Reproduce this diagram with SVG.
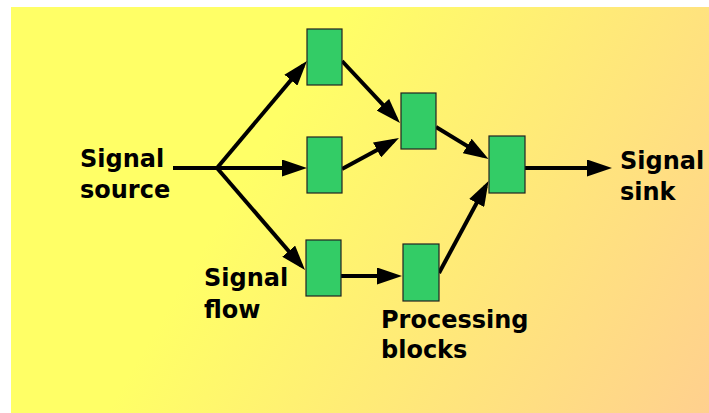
<svg xmlns="http://www.w3.org/2000/svg" width="709" height="413" viewBox="0 0 709 413">
  <defs>
    <linearGradient id="bg" gradientUnits="userSpaceOnUse" x1="260" y1="150" x2="709" y2="413">
      <stop offset="0" stop-color="#FFFF66"/>
      <stop offset="1" stop-color="#FFD08E"/>
    </linearGradient>
    <marker id="head" markerUnits="userSpaceOnUse" viewBox="0 0 25 17" markerWidth="25" markerHeight="17" refX="19" refY="8.5" orient="auto">
      <path d="M0,0 L25,8.5 L0,17 z" fill="#000"/>
    </marker>
    <style>
      .block { fill: #33CC66; stroke: #222; stroke-width: 1.2; }
      .flow { fill: none; stroke: #000; stroke-width: 4; stroke-linecap: butt; }
      .flow.arrow { marker-end: url(#head); }
      .label { font-family: "DejaVu Sans", sans-serif; font-weight: bold; font-size: 24px; fill: #000; }
    </style>
  </defs>

  <rect x="0" y="0" width="709" height="413" fill="#FFFFFF"/>
  <rect x="11" y="7" width="698" height="406" fill="url(#bg)"/>

  <g id="connectors">
    <path class="flow" d="M173,168 H217"/>
    <path class="flow arrow" d="M217,168 L303.1,65.6"/>
    <path class="flow arrow" d="M217,168 L301,168"/>
    <path class="flow arrow" d="M217,168 L301.1,265.5"/>
    <path class="flow arrow" d="M342,61 L395.9,118.6"/>
    <path class="flow arrow" d="M342,169 L393.7,140.9"/>
    <path class="flow arrow" d="M341,276 L396,276"/>
    <path class="flow arrow" d="M439,273 L485.7,186.3"/>
    <path class="flow arrow" d="M436,127 L483.4,155.9"/>
    <path class="flow arrow" d="M525,168 L606,168"/>
  </g>

  <g id="block-top"><rect class="block" x="307" y="29" width="35" height="56"/></g>
  <g id="block-middle"><rect class="block" x="307" y="137" width="35" height="56"/></g>
  <g id="block-bottom"><rect class="block" x="306" y="240" width="35" height="56"/></g>
  <g id="block-merge"><rect class="block" x="401" y="93" width="35" height="56"/></g>
  <g id="block-lower"><rect class="block" x="403" y="244" width="36" height="57"/></g>
  <g id="block-output"><rect class="block" x="489" y="136" width="36" height="57"/></g>

  <g id="label-source">
    <text class="label" x="80" y="167">Signal</text>
    <text class="label" x="80" y="198">source</text>
  </g>
  <g id="label-sink">
    <text class="label" x="620" y="169">Signal</text>
    <text class="label" x="620" y="200">sink</text>
  </g>
  <g id="label-flow">
    <text class="label" x="204" y="286">Signal</text>
    <text class="label" x="204" y="318">flow</text>
  </g>
  <g id="label-blocks">
    <text class="label" x="381" y="328">Processing</text>
    <text class="label" x="381" y="358">blocks</text>
  </g>
</svg>
